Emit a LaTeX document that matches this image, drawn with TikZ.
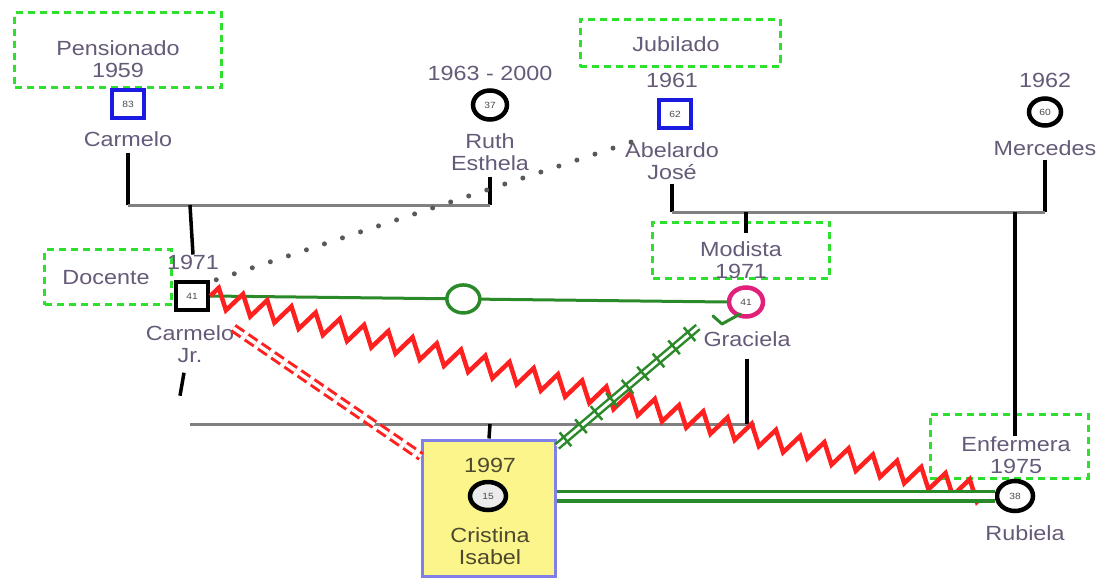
\documentclass[tikz,border=0pt]{standalone}
\usepackage{fontspec}
\setmainfont{Liberation Sans}[FakeStretch=1.14]
\usepackage{tikz}
\usetikzlibrary{positioning,shapes.geometric,calc,decorations.pathmorphing}
\usepackage{xcolor}
\definecolor{tagGreen}{HTML}{2EE02E}
\definecolor{linkGreen}{HTML}{2A8A2A}
\definecolor{linkRed}{HTML}{FF2020}
\definecolor{nameInk}{HTML}{655A78}
\definecolor{maleBlue}{HTML}{1A1AE0}
\definecolor{femPink}{HTML}{E0207A}
\definecolor{egoFill}{HTML}{FBF58C}
\definecolor{egoEdge}{HTML}{8080E6}

\begin{document}
\begin{tikzpicture}[x=1pt, y=-1pt,
    tagBox/.style={rectangle, draw=tagGreen, line width=3pt, dash pattern=on 7pt off 5pt, inner sep=0pt},
    nameText/.style={font=\fontsize{20.5}{22}\selectfont, text=nameInk, align=center, inner sep=0pt},
    ageText/.style={font=\fontsize{9}{9}\selectfont, text=black!70},
    maleSym/.style={rectangle, draw=maleBlue, line width=4.5pt, fill=white, minimum width=32pt, minimum height=28pt, inner sep=0pt, ageText},
    femSym/.style={ellipse, draw=black, line width=4.5pt, fill=white, minimum width=34pt, minimum height=29pt, inner sep=0pt, ageText},
    kinLine/.style={draw=black, line width=3.5pt},
    unionLine/.style={draw=black!50, line width=3pt},
    dotLine/.style={draw=black!65, line width=5pt, line cap=round, dash pattern=on 0pt off 19pt},
    zigLine/.style={draw=linkRed, line width=4.5pt, line join=miter, decorate, decoration={zigzag, segment length=25pt, amplitude=10pt}},
    cutLine/.style={draw=linkRed, line width=3pt, double=white, double distance=3.5pt, dash pattern=on 11pt off 5pt},
    crossLine/.style={draw=linkGreen, line width=2.5pt, double=white, double distance=3pt},
    tickLine/.style={draw=linkGreen, line width=2.5pt},
    bondLine/.style={draw=linkGreen, line width=3.5pt, double=white, double distance=6pt}
]
    \useasboundingbox (0,0) rectangle (1102,578);

    % Occupation tags
    \node[tagBox, minimum width=207pt, minimum height=74pt] (pensTag) at (118,50) {};
    \node[nameText] at (118,59) {Pensionado\\1959};
    \node[tagBox, minimum width=200pt, minimum height=47pt] (jubTag) at (680,43) {};
    \node[nameText] at (676,44) {Jubilado};
    \node[tagBox, minimum width=127pt, minimum height=55pt] (docTag) at (108,277) {};
    \node[nameText] at (106,278) {Docente};
    \node[tagBox, minimum width=177pt, minimum height=56pt] (modTag) at (741,250) {};
    \node[nameText] at (741,260) {Modista\\1971};
    \node[tagBox, minimum width=158pt, minimum height=64pt] (enfTag) at (1009,446) {};
    \node[nameText] at (1016,455) {Enfermera\\1975};

    % Grandparents
    \node[maleSym] (carmeloSym) at (128,104) {83};
    \node[nameText] (carmeloName) at (128,139) {Carmelo};
    \node[nameText] (ruthYear) at (490,73) {1963 - 2000};
    \node[femSym] (ruthSym) at (490,105) {37};
    \node[nameText] (ruthName) at (490,152) {Ruth\\Esthela};
    \node[nameText] (abelYear) at (672,80) {1961};
    \node[maleSym] (abelSym) at (675,114) {62};
    \node[nameText] (abelName) at (672,161) {Abelardo\\José};
    \node[nameText] (merYear) at (1045,80) {1962};
    \node[femSym, minimum width=32pt, minimum height=27pt] (merSym) at (1045,112) {60};
    \node[nameText] (merName) at (1045,148) {Mercedes};

    % Parents
    \node[nameText] (jrYear) at (193,262) {1971};
    \node[maleSym, draw=black] (jrSym) at (192,296) {41};
    \node[nameText] (jrName) at (190,344) {Carmelo\\Jr.};
    \node[femSym, draw=femPink] (graSym) at (746,302) {41};
    \node[nameText] (graName) at (747,339) {Graciela};
    \node[femSym, minimum width=36pt, minimum height=30pt] (rubSym) at (1015,496) {38};
    \node[nameText] (rubName) at (1025,533) {Rubiela};

    % Index person
    \node[rectangle, draw=egoEdge, line width=3pt, fill=egoFill, minimum width=133pt, minimum height=136pt] (egoBox) at (489,508) {};
    \node[nameText, text=black!60!olive] (egoYear) at (490,465) {1997};
    \node[femSym, fill=black!8, minimum width=36pt, minimum height=28pt] (egoSym) at (488,496) {15};
    \node[nameText, text=black!60!olive] (egoName) at (490,546) {Cristina\\Isabel};

    % Family lines
    \coordinate (u1L) at (128,205);
    \coordinate (u1R) at (490,205);
    \coordinate (u1C) at (190,205);
    \coordinate (u2L) at (672,212);
    \coordinate (u2R) at (1045,212);
    \coordinate (u2G) at (746,212);
    \coordinate (u2B) at (1015,212);
    \coordinate (u3L) at (190,424);
    \coordinate (u3R) at (755,424);
    \coordinate (u3G) at (747,424);
    \coordinate (u3C) at (490,424);
    \draw[kinLine] ([yshift=-6pt]carmeloName.south) -- (u1L);
    \draw[kinLine] ([yshift=-6pt]ruthName.south) -- (u1R);
    \draw[unionLine] (u1L) -- (u1R);
    \draw[kinLine] (u1C) -- (jrYear.north);
    \draw[kinLine] ([yshift=-4pt]abelName.south) -- (u2L);
    \draw[kinLine] ([yshift=-4pt]merName.south) -- (u2R);
    \draw[unionLine] (u2L) -- (u2R);
    \draw[kinLine] (u2G) -- ([xshift=5pt,yshift=-12pt]modTag.north);
    \draw[kinLine] (u2B) -- ([xshift=6pt,yshift=-23pt]enfTag.north);
    \draw[unionLine] (u3L) -- (u3R);
    \draw[kinLine] ([yshift=-12pt]graName.south) -- (u3G);
    \draw[kinLine] ([xshift=-6pt,yshift=-10pt]jrName.south) -- ++(-4,23);
    \draw[kinLine] (u3C) -- (egoBox.north);

    % Relationship lines
    \draw[dotLine] ([xshift=6pt]jrSym.north east) -- ([xshift=-8pt,yshift=-6pt]abelSym.south west);
    \draw[linkGreen, line width=3pt] (jrSym.east) -- (graSym.west)
        node[pos=0.49, ellipse, draw=linkGreen, line width=3.5pt, fill=white, minimum width=33pt, minimum height=28pt, inner sep=0pt] (bondRing) {};
    \draw[zigLine] (jrSym.east) -- (rubSym.west);
    \draw[cutLine, shorten <=28pt] (jrSym.south east) -- ([yshift=-18pt]egoBox.north west);
    \coordinate (crossA) at ([yshift=-8pt]egoBox.north east);
    \coordinate (crossB) at (698,327);
    \draw[crossLine] (crossA) -- (crossB);
    \foreach \t in {0.06,0.17,...,1.0} {
        \draw[tickLine] ($($(crossA)!\t!(crossB)$)!9pt!90:(crossB)$) -- ($($(crossA)!\t!(crossB)$)!9pt!-90:(crossB)$);
    }
    \draw[linkGreen, line width=3pt, line cap=round, line join=round] ([shift={(-33pt,-14pt)}]graSym.center) -- ([shift={(-24pt,-22pt)}]graSym.center) -- ([shift={(-6pt,-12pt)}]graSym.center);
    \draw[bondLine] ([yshift=12pt]egoBox.east) -- (rubSym.west);
\end{tikzpicture}
\end{document}
